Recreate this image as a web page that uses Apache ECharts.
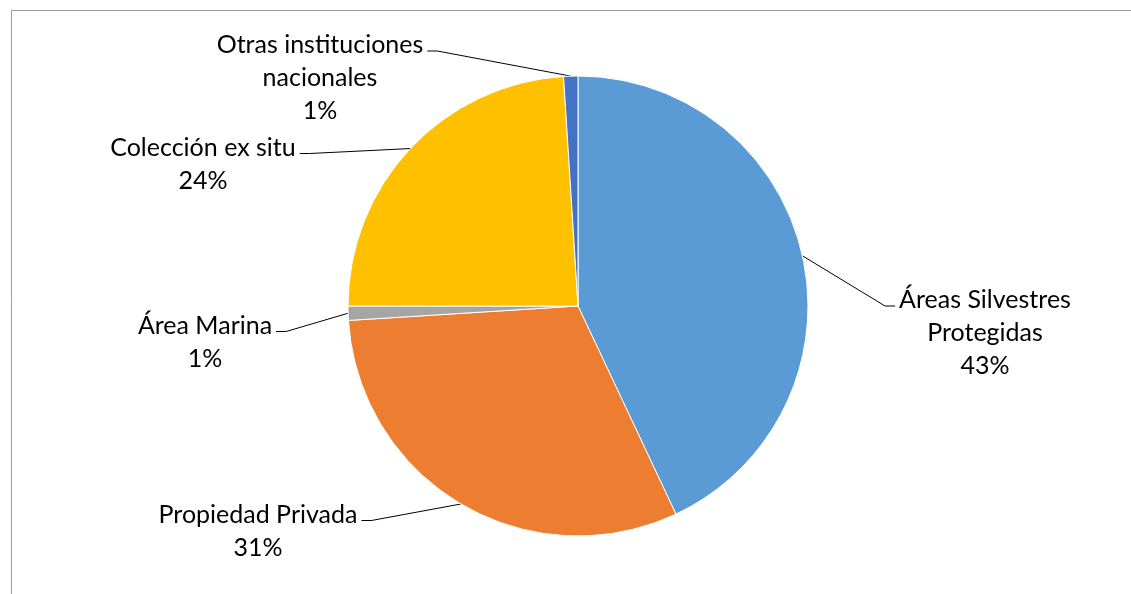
<!DOCTYPE html>
<html>
<head>
<meta charset="utf-8">
<script src="https://cdn.jsdelivr.net/npm/echarts@6/dist/echarts.min.js"></script>
<style>
  html, body { margin: 0; padding: 0; background: #ffffff; }
  #chart { width: 1131px; height: 594px; }
</style>
</head>
<body>
<div id="chart"></div>
<script>
// Origin of the records, share of each holder (%)
const categories = [
  'Áreas Silvestres Protegidas',
  'Propiedad Privada',
  'Área Marina',
  'Colección ex situ',
  'Otras instituciones nacionales'
];
const labelNames = [
  'Áreas Silvestres\nProtegidas',
  'Propiedad Privada',
  'Área Marina',
  'Colección ex situ',
  'Otras instituciones\nnacionales'
];
const shares = [43, 31, 1, 24, 1];
const sliceColors = ['#5B9BD5', '#ED7D31', '#A5A5A5', '#FFC000', '#4472C4'];

// Where each data label block sits (centre of the text block)
const labelCenters = [[985, 333], [258, 531], [205, 342], [203, 164], [320, 78]];
const PIE_CENTER = [578, 306];
const PIE_RADIUS = 230;
const LINE_H = 33;

const chart = echarts.init(document.getElementById('chart'), null, { renderer: 'canvas' });

chart.setOption({
  animation: false,
  backgroundColor: '#ffffff',
  graphic: [{
    type: 'rect',
    shape: { x: 11.5, y: 10.5, width: 1300, height: 800 },
    style: { fill: 'none', stroke: '#9a9a9a', lineWidth: 1 },
    silent: true
  }],
  series: [{
    type: 'pie',
    center: PIE_CENTER,
    radius: PIE_RADIUS,
    startAngle: 90,
    clockwise: true,
    data: categories.map((name, i) => ({
      name: name,
      value: shares[i],
      itemStyle: { color: sliceColors[i] }
    })),
    itemStyle: { borderColor: '#ffffff', borderWidth: 1 },
    label: {
      show: true,
      position: 'outside',
      formatter: p => labelNames[p.dataIndex] + '\n' + p.value + '%',
      fontFamily: 'Lato',
      fontSize: 25,
      lineHeight: LINE_H,
      color: '#000000',
      align: 'center'
    },
    labelLine: {
      show: true,
      length: 20,
      length2: 10,
      lineStyle: { color: '#000000', width: 1 }
    },
    labelLayout: function (p) {
      const i = p.dataIndex;
      const c = labelCenters[i];
      const w = p.labelRect.width;
      const h = p.labelRect.height;
      const lineY = c[1] - h / 2 + LINE_H / 2 + 6;
      const onRight = c[0] > PIE_CENTER[0];
      const endX = onRight ? c[0] - w / 2 - 4 : c[0] + w / 2 + 4;
      const elbowX = onRight ? endX - 10 : endX + 10;
      const anchor = p.labelLinePoints ? p.labelLinePoints[0] : null;
      const out = {
        x: c[0],
        y: c[1],
        align: 'center',
        verticalAlign: 'middle'
      };
      if (anchor) {
        out.labelLinePoints = [anchor, [elbowX, lineY], [endX, lineY]];
      }
      return out;
    }
  }]
});
</script>
</body>
</html>
